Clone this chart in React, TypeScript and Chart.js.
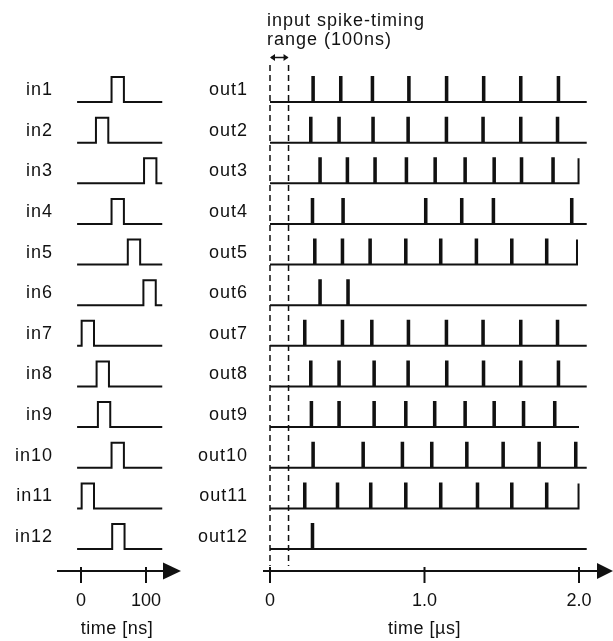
import { useEffect, useRef } from "react";
import { Chart, registerables } from "chart.js";

Chart.register(...registerables);

// ---------- data ----------
const inLabels = ["in1", "in2", "in3", "in4", "in5", "in6", "in7", "in8", "in9", "in10", "in11", "in12"];
const outLabels = ["out1", "out2", "out3", "out4", "out5", "out6", "out7", "out8", "out9", "out10", "out11", "out12"];

// input pulse start times [ns]
const inStarts = [47, 23, 97, 47, 72, 96, 1, 24, 26, 47, 1, 48];
const inPulseWidth = 19; // ns
const inTraceStart = -6;
const inTraceEnd = 125;

// output spike times [µs]
const out1 = [0.274, 0.453, 0.658, 0.894, 1.138, 1.378, 1.618, 1.862];
const out2 = [0.259, 0.442, 0.662, 0.889, 1.137, 1.374, 1.618, 1.856];
const out3 = [0.319, 0.496, 0.675, 0.878, 1.064, 1.258, 1.446, 1.623, 1.827, 1.997];
const out4 = [0.27, 0.468, 1.003, 1.236, 1.441, 1.948];
const out5 = [0.285, 0.464, 0.643, 0.874, 1.1, 1.331, 1.56, 1.786, 1.987];
const out6 = [0.319, 0.5];
const out7 = [0.22, 0.464, 0.654, 0.891, 1.137, 1.374, 1.618, 1.856];
const out8 = [0.259, 0.442, 0.669, 0.889, 1.139, 1.377, 1.618, 1.862];
const out9 = [0.263, 0.442, 0.669, 0.874, 1.061, 1.258, 1.446, 1.636, 1.838];
const out10 = [0.274, 0.598, 0.852, 1.042, 1.269, 1.504, 1.737, 1.974];
const out11 = [0.22, 0.432, 0.647, 0.874, 1.1, 1.338, 1.56, 1.786, 1.997];
const out12 = [0.27];
const outSpikes = [out1, out2, out3, out4, out5, out6, out7, out8, out9, out10, out11, out12];
const outEnds = [2.05, 2.05, 2.0, 2.05, 1.99, 2.05, 2.05, 2.05, 2.0, 2.05, 2.0, 2.05];
const outTraceStart = 0;
const spikeWidth = 0.01; // µs

const inTicks = [0, 100];
const inTickLabels = ["0", "100"];
const outTicks = [0, 1.0, 2.0];
const outTickLabels = ["0", "1.0", "2.0"];
const windowEdges = [0, 0.12]; // µs, input spike-timing range
const inAxisTitle = "time [ns]";
const outAxisTitle = "time [µs]";
const noteLines = ["input spike-timing", "range (100ns)"];

// ---------- layout ----------
const W = 613;
const H = 641;
const ROW0 = 102; // pixel of first baseline
const ROWGAP = 40.64;
const PULSE_H = 25 / ROWGAP;
const OUT_X0 = 270, OUT_PX = 154.5; // px for 0 µs, px per µs
const IN_X0 = 81, IN_PX = 0.65; // px for 0 ns, px per ns
const FONT = '"Liberation Sans", Arial, Helvetica, sans-serif';

const N = inLabels.length;
const base = (k: number) => N - 1 - k;

function inTrace(k: number) {
  const b = base(k);
  const s = inStarts[k];
  return [
    { x: inTraceStart, y: b },
    { x: s, y: b },
    { x: s, y: b + PULSE_H },
    { x: s + inPulseWidth, y: b + PULSE_H },
    { x: s + inPulseWidth, y: b },
    { x: inTraceEnd, y: b },
  ];
}

function outTrace(k: number) {
  const b = base(k);
  const end = outEnds[k];
  const pts: { x: number; y: number }[] = [{ x: outTraceStart, y: b }];
  for (const t of outSpikes[k]) {
    if (t + spikeWidth > end) {
      pts.push({ x: t, y: b }, { x: t, y: b + PULSE_H });
      return pts;
    }
    pts.push({ x: t, y: b }, { x: t, y: b + PULSE_H }, { x: t + spikeWidth, y: b + PULSE_H }, { x: t + spikeWidth, y: b });
  }
  pts.push({ x: end, y: b });
  return pts;
}

const overlay = {
  id: "overlay",
  afterDatasetsDraw(chart: any) {
    const ctx = chart.ctx as CanvasRenderingContext2D;
    const xs = chart.scales.x;
    const xi = chart.scales.xin;
    const ys = chart.scales.y;
    ctx.save();
    ctx.fillStyle = "#111";
    ctx.strokeStyle = "#111";

    // row labels
    ctx.font = `18px ${FONT}`;
    (ctx as any).letterSpacing = "1px";
    ctx.textAlign = "right";
    ctx.textBaseline = "alphabetic";
    for (let k = 0; k < N; k++) {
      const py = ys.getPixelForValue(base(k)) - 7;
      ctx.fillText(inLabels[k], 53, py);
      ctx.fillText(outLabels[k], 248, py);
    }

    // note text
    ctx.textAlign = "left";
    ctx.fillText(noteLines[0], 267, 26);
    ctx.fillText(noteLines[1], 267, 45);

    // dashed window lines
    ctx.lineWidth = 1.5;
    ctx.setLineDash([6, 4]);
    for (const e of windowEdges) {
      const px = xs.getPixelForValue(e);
      ctx.beginPath();
      ctx.moveTo(px, 65);
      ctx.lineTo(px, 566);
      ctx.stroke();
    }
    ctx.setLineDash([]);

    // double arrow
    const a0 = xs.getPixelForValue(windowEdges[0]);
    const a1 = xs.getPixelForValue(windowEdges[1]);
    const ay = 57.5;
    ctx.lineWidth = 1.5;
    ctx.beginPath();
    ctx.moveTo(a0 + 1, ay);
    ctx.lineTo(a1 - 1, ay);
    ctx.stroke();
    ctx.beginPath();
    ctx.moveTo(a0, ay);
    ctx.lineTo(a0 + 5, ay - 3.5);
    ctx.lineTo(a0 + 5, ay + 3.5);
    ctx.closePath();
    ctx.fill();
    ctx.beginPath();
    ctx.moveTo(a1, ay);
    ctx.lineTo(a1 - 5, ay - 3.5);
    ctx.lineTo(a1 - 5, ay + 3.5);
    ctx.closePath();
    ctx.fill();

    // axes
    const drawAxis = (x0: number, x1: number, tip: number, y: number, half: number) => {
      ctx.lineWidth = 2;
      ctx.beginPath();
      ctx.moveTo(x0, y);
      ctx.lineTo(x1, y);
      ctx.stroke();
      ctx.beginPath();
      ctx.moveTo(tip, y);
      ctx.lineTo(x1 - 2, y - half);
      ctx.lineTo(x1 - 2, y + half);
      ctx.closePath();
      ctx.fill();
    };
    const axisY = 571;
    drawAxis(263, 599, 613, axisY, 8);
    drawAxis(57, 165, 181, axisY, 8.5);

    ctx.lineWidth = 2;
    for (const t of outTicks) {
      const px = xs.getPixelForValue(t);
      ctx.beginPath();
      ctx.moveTo(px, axisY - 4);
      ctx.lineTo(px, axisY + 12);
      ctx.stroke();
    }
    for (const t of inTicks) {
      const px = xi.getPixelForValue(t);
      ctx.beginPath();
      ctx.moveTo(px, axisY - 4);
      ctx.lineTo(px, axisY + 12);
      ctx.stroke();
    }

    (ctx as any).letterSpacing = "0px";
    ctx.textAlign = "center";
    ctx.textBaseline = "middle";
    ctx.font = `18px ${FONT}`;
    outTicks.forEach((t, i) => ctx.fillText(outTickLabels[i], xs.getPixelForValue(t), 601));
    inTicks.forEach((t, i) => ctx.fillText(inTickLabels[i], xi.getPixelForValue(t), 601));
    (ctx as any).letterSpacing = "0.5px";
    ctx.fillText(outAxisTitle, xs.getPixelForValue(1.0), 629);
    ctx.fillText(inAxisTitle, 117, 629);

    ctx.restore();
  },
};

export default function App() {
  const ref = useRef<HTMLCanvasElement | null>(null);
  useEffect(() => {
    if (!ref.current) return;
    const datasets: any[] = [];
    for (let k = 0; k < N; k++) {
      datasets.push({
        label: inLabels[k],
        data: inTrace(k),
        xAxisID: "xin",
        yAxisID: "y",
        showLine: true,
        borderColor: "#111",
        borderWidth: 2,
        pointRadius: 0,
        borderJoinStyle: "miter",
        tension: 0,
        fill: false,
      });
      datasets.push({
        label: outLabels[k],
        data: outTrace(k),
        xAxisID: "x",
        yAxisID: "y",
        showLine: true,
        borderColor: "#111",
        borderWidth: 2,
        pointRadius: 0,
        borderJoinStyle: "miter",
        tension: 0,
        fill: false,
      });
    }
    const chart = new Chart(ref.current, {
      type: "scatter",
      data: { datasets },
      options: {
        animation: false,
        responsive: false,
        maintainAspectRatio: false,
        layout: { padding: 0 },
        plugins: { legend: { display: false }, tooltip: { enabled: false }, title: { display: false } },
        events: [],
        scales: {
          x: { type: "linear", display: false, min: -OUT_X0 / OUT_PX, max: (W - OUT_X0) / OUT_PX },
          xin: { type: "linear", axis: "x", display: false, min: -IN_X0 / IN_PX, max: (W - IN_X0) / IN_PX },
          y: { type: "linear", display: false, min: N - 1 - (H - ROW0) / ROWGAP, max: N - 1 + ROW0 / ROWGAP },
        },
      },
      plugins: [overlay],
    });
    return () => chart.destroy();
  }, []);
  return (
    <div style={{ position: "fixed", left: 0, top: 0, width: W, height: H, background: "#fff" }}>
      <canvas ref={ref} width={W} height={H} style={{ width: W, height: H, display: "block" }} />
    </div>
  );
}
